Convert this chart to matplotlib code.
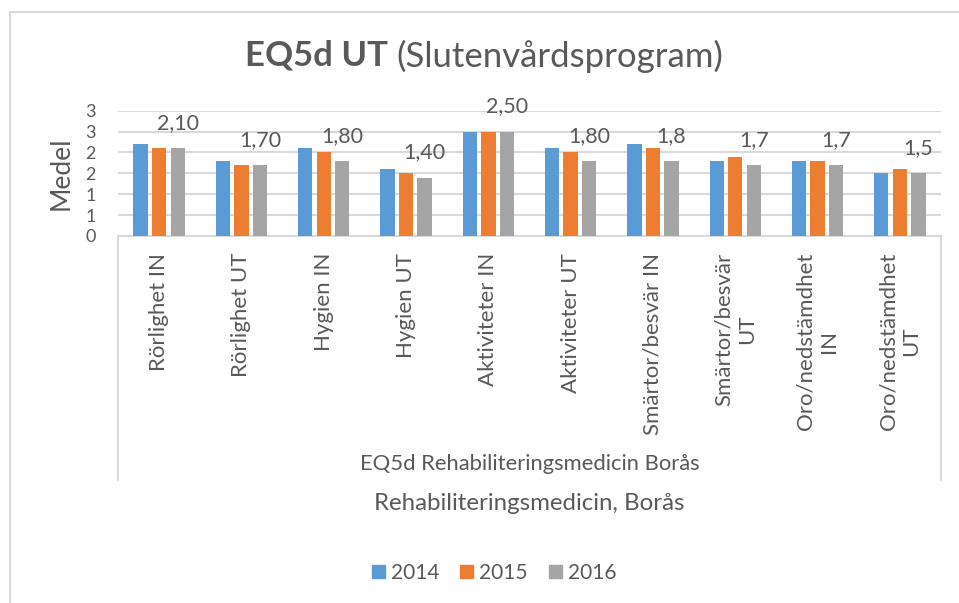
import matplotlib
matplotlib.use("Agg")
import matplotlib.pyplot as plt
import numpy as np
from matplotlib.patches import Rectangle
from matplotlib.lines import Line2D

categories = ["Rörlighet IN", "Rörlighet UT", "Hygien IN", "Hygien UT",
              "Aktiviteter IN", "Aktiviteter UT", "Smärtor/besvär IN",
              "Smärtor/besvär\nUT", "Oro/nedstämdhet\nIN", "Oro/nedstämdhet\nUT"]
years = ["2014", "2015", "2016"]
v2014 = [2.2, 1.8, 2.1, 1.6, 2.5, 2.1, 2.2, 1.8, 1.8, 1.5]
v2015 = [2.1, 1.7, 2.0, 1.5, 2.5, 2.0, 2.1, 1.9, 1.8, 1.6]
v2016 = [2.1, 1.7, 1.8, 1.4, 2.5, 1.8, 1.8, 1.7, 1.7, 1.5]
data_labels = ["2,10", "1,70", "1,80", "1,40", "2,50", "1,80", "1,8", "1,7", "1,7", "1,5"]
y_ticks = [0, 0.5, 1, 1.5, 2, 2.5, 3]
y_ticklabels = ["0", "1", "1", "2", "2", "3", "3"]
title_bold = "EQ5d UT"
title_rest = "(Slutenvårdsprogram)"
y_title = "Medel"
group_label = "EQ5d Rehabiliteringsmedicin Borås"
x_title = "Rehabiliteringsmedicin, Borås"

colors = ["#5B9BD5", "#ED7D31", "#A5A5A5"]
txt = "#595959"
grid = "#D9D9D9"

plt.rcParams['font.family'] = ['Lato', 'DejaVu Sans']

W, H = 959, 603
fig = plt.figure(figsize=(W / 100, H / 100), dpi=100)

def fx(px):
    return px / W

def fy(py):
    return 1 - py / H

# chart border
fig.patches.append(Rectangle((fx(10), -0.1), 2, fy(12) + 0.1, transform=fig.transFigure,
                             fill=False, edgecolor=grid, lw=1.5))

x0, x1, ytop, ybot = 118, 941, 110.7, 236
ax = fig.add_axes([fx(x0), fy(ybot), fx(x1 - x0), (ybot - ytop) / H])

x = np.arange(len(categories))
step, bw = 0.225, 0.174
for k, (vals, c, yr) in enumerate(zip([v2014, v2015, v2016], colors, years)):
    ax.bar(x + (k - 1) * step, vals, width=bw, color=c, label=yr, zorder=3)

for i, (v, lab) in enumerate(zip(v2016, data_labels)):
    ax.annotate(lab, (x[i] + step, v), xytext=(0, 18), textcoords="offset points",
                ha="center", va="center", fontsize=15.5, color=txt, zorder=4)

ax.set_xlim(-0.5, len(categories) - 0.5)
ax.set_ylim(0, 3)
ax.set_yticks(y_ticks)
ax.set_yticklabels(y_ticklabels)
ax.yaxis.grid(True, color=grid, lw=1.5, zorder=0)
ax.set_axisbelow(True)
for s in ["top", "right", "left"]:
    ax.spines[s].set_visible(False)
ax.spines["bottom"].set_color(grid)
ax.spines["bottom"].set_linewidth(1.5)
ax.tick_params(axis="y", length=0, pad=16, labelsize=13, labelcolor=txt)
ax.set_xticks(x)
ax.set_xticklabels(categories, rotation=90, va="top", ha="center", multialignment="center",
                   linespacing=1.2)
ax.tick_params(axis="x", length=0, pad=12, labelsize=16, labelcolor=txt)

# multi-level category box lines
for px in (x0, x1):
    fig.lines.append(Line2D([fx(px), fx(px)], [fy(ybot), fy(480)], transform=fig.transFigure,
                            color=grid, lw=1.5))

fig.text(fx(61), fy(173), y_title, rotation=90, ha="center", va="center", fontsize=19, color=txt)
fig.text(fx(529.5), fy(464), group_label, ha="center", va="center", fontsize=15.8, color=txt)
fig.text(fx(529.5), fy(503), x_title, ha="center", va="center", fontsize=17.3, color=txt)

# title: bold part + regular part, centered together
tb = fig.text(0, fy(56), title_bold + " ", ha="left", va="center", fontsize=25, weight="bold", color=txt)
tr = fig.text(0, fy(56), title_rest, ha="left", va="center", fontsize=25, color=txt)
fig.canvas.draw()
r = fig.canvas.get_renderer()
wb = tb.get_window_extent(r).width
wr = tr.get_window_extent(r).width
start = 484 - (wb + wr) / 2
tb.set_x(fx(start))
tr.set_x(fx(start + wb))

handles = [Rectangle((0, 0), 1, 1, color=c) for c in colors]
fig.legend(handles, years, loc="center", bbox_to_anchor=(fx(494), fy(573)), ncol=3,
           frameon=False, fontsize=15, handlelength=0.62, handleheight=0.62,
           handletextpad=0.3, columnspacing=1.0, labelcolor=txt)

fig.savefig("out.png", dpi=100)
